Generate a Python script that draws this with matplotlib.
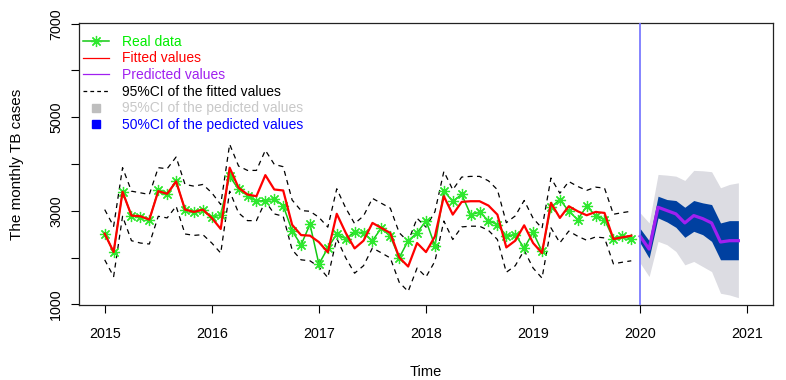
import numpy as np
import matplotlib
matplotlib.use("Agg")
import matplotlib.pyplot as plt
from matplotlib.lines import Line2D

plt.rcParams['font.family'] = ['Liberation Sans', 'DejaVu Sans']

# ---------------- data ----------------
start_year = 2015
real = [2510, 2117, 3405, 2897, 2875, 2810, 3434, 3348, 3627, 3025, 2983, 3025,
        2860, 2918, 3741, 3455, 3326, 3204, 3219, 3255, 3111, 2570, 2270, 2710,
        1860, 2203, 2504, 2403, 2547, 2525, 2360, 2632, 2452, 1995, 2360, 2525,
        2789, 2252, 3419, 3204, 3348, 2918, 2968, 2789, 2703, 2467, 2489, 2203,
        2538, 2130, 3075, 3240, 2989, 2811, 3097, 2897, 2811, 2403, 2452, 2396]
fitted = [2510, 2117, 3405, 2897, 2882, 2811, 3419, 3363, 3627, 3025, 2975, 3025,
          2847, 2611, 3921, 3492, 3348, 3311, 3762, 3455, 3434, 2700, 2480, 2468,
          2330, 2112, 2935, 2530, 2195, 2360, 2740, 2632, 2525, 2001, 1808, 2310,
          2117, 2452, 3311, 2918, 3190, 3204, 3204, 3111, 2918, 2216, 2360, 2689,
          2310, 2095, 3169, 2847, 3097, 2989, 2904, 2975, 2954, 2396, 2432, 2467]
fit_upper = [3025, 2667, 3921, 3419, 3384, 3348, 3921, 3899, 4149, 3563, 3526, 3563,
             3384, 3133, 4422, 3956, 3863, 3863, 4293, 3992, 3942, 3230, 3004, 2989,
             2860, 2650, 3470, 3060, 2725, 2890, 3265, 3160, 3055, 2530, 2340, 2840,
             2650, 2980, 3840, 3450, 3720, 3735, 3735, 3640, 3450, 2745, 2890, 3220,
             2840, 2625, 3700, 3375, 3625, 3520, 3435, 3505, 3485, 2925, 2960, 2990]
fit_lower = [1951, 1593, 2882, 2360, 2310, 2289, 2882, 2847, 3097, 2504, 2474, 2489,
             2310, 2095, 3419, 2954, 2789, 2789, 3204, 2933, 2882, 2166, 1951, 1930,
             1800, 1570, 2410, 1995, 1665, 1825, 2205, 2100, 1990, 1470, 1275, 1775,
             1585, 1920, 2780, 2385, 2655, 2670, 2670, 2580, 2385, 1685, 1825, 2155,
             1775, 1560, 2635, 2315, 2565, 2455, 2370, 2440, 2420, 1865, 1900, 1930]

pred_start = 2020
predicted = [2452, 2181, 3075, 3004, 2933, 2740, 2897, 2832, 2740, 2332, 2360, 2360]
pi50_upper = [2618, 2360, 3311, 3240, 3219, 3075, 3219, 3169, 3133, 2740, 2789, 2789]
pi50_lower = [2310, 1988, 2847, 2761, 2646, 2432, 2560, 2489, 2346, 1952, 1952, 1952]
pi95_upper = [2954, 2740, 3777, 3762, 3740, 3648, 3863, 3855, 3835, 3492, 3563, 3598]
pi95_lower = [1881, 1593, 2346, 2274, 2130, 1844, 1916, 1808, 1700, 1236, 1200, 1142]

x_ticks = [2015, 2016, 2017, 2018, 2019, 2020, 2021]
y_ticks = [1000, 2000, 3000, 4000, 5000, 6000, 7000]
y_ticklabels = ['1000', '', '3000', '', '5000', '', '7000']

legend_labels = ['Real data', 'Fitted values', 'Predicted values',
                 '95%CI of the fitted values', '95%CI of the pedicted values',
                 '50%CI of the pedicted values']

# ---------------- style ----------------
c_green_line = '#14c814'
c_green_mark = '#2ee82e'
c_red = '#ff0000'
c_purple = '#a020f0'
c_dark_blue = '#0040a0'
c_light_gray = '#dcdce2'
c_vline = '#7070ff'

t_fit = start_year + np.arange(len(real)) / 12.0
t_pred = pred_start + np.arange(len(predicted)) / 12.0

fig = plt.figure(figsize=(7.86, 3.80), dpi=100)
ax = fig.add_axes([79/786, 75/380, 694/786, 282/380])

# fitted CI
ax.plot(t_fit, fit_upper, color='black', lw=0.9, ls=(0, (4, 3.5)), zorder=3)
ax.plot(t_fit, fit_lower, color='black', lw=0.9, ls=(0, (4, 3.5)), zorder=3)
# real data
ax.plot(t_fit, real, color=c_green_line, lw=1.1, zorder=4)
ax.plot(t_fit, real, ls='none', marker=(8, 2, 0), ms=8, mew=0.9,
        color=c_green_mark, zorder=4)
# fitted
ax.plot(t_fit, fitted, color=c_red, lw=1.6, zorder=5)
# predictions
ax.fill_between(t_pred, pi95_lower, pi95_upper, color=c_light_gray, lw=0, zorder=2)
ax.fill_between(t_pred, pi50_lower, pi50_upper, color=c_dark_blue, lw=0, zorder=2.5)
ax.plot(t_pred, predicted, color=c_purple, lw=2.3, zorder=6)
ax.axvline(2020, color=c_vline, lw=1.2, zorder=7)

ax.set_xlim(2014.76, 2021.24)
ax.set_ylim(985, 7015)
ax.set_xticks(x_ticks)
ax.set_xticklabels([str(v) for v in x_ticks])
ax.set_yticks(y_ticks)
ax.set_yticklabels(y_ticklabels, rotation=90, va='center')
ax.tick_params(axis='both', direction='out', length=5.8, width=0.8,
               labelsize=10.3, color='black')
ax.tick_params(axis='x', pad=10)
ax.tick_params(axis='y', pad=5.5)
for s in ax.spines.values():
    s.set_linewidth(0.9)
    s.set_color('#222222')

ax.set_xlabel('Time', fontsize=10.5, labelpad=17)
ax.set_ylabel('The monthly TB cases', fontsize=11, labelpad=18)

handles = [
    Line2D([], [], color=c_green_line, lw=1.1, marker=(8, 2, 0), ms=8,
           mew=0.9, mec=c_green_mark),
    Line2D([], [], color=c_red, lw=0.9),
    Line2D([], [], color=c_purple, lw=0.9),
    Line2D([], [], color='black', lw=0.9, ls=(0, (3, 2.5))),
    Line2D([], [], ls='none', marker='s', ms=6, color='#bebebe'),
    Line2D([], [], ls='none', marker='s', ms=6, color='#0000ff'),
]
leg = ax.legend(handles, legend_labels, loc='upper left',
                bbox_to_anchor=(0.006, 0.958), borderaxespad=0, borderpad=0,
                frameon=False, fontsize=10, handlelength=1.85,
                handletextpad=0.95, labelspacing=0.19,
                labelcolor=['#00ee00', '#ff0000', '#a020f0', 'black',
                            '#c8c8c8', '#0000ff'])

fig.savefig('out.png', dpi=100)
